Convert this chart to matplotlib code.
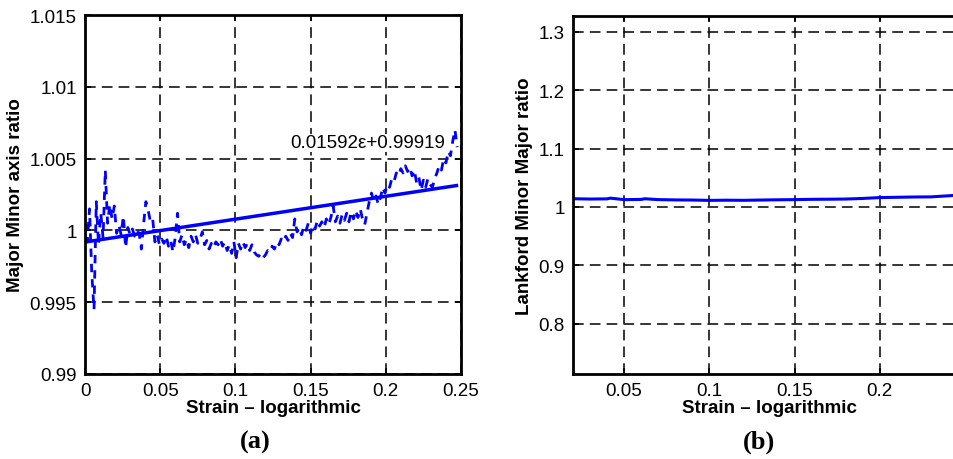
import numpy as np
import matplotlib
matplotlib.use("Agg")
import matplotlib.pyplot as plt

plt.rcParams['font.family'] = ['Liberation Sans', 'DejaVu Sans']

# (a) measured major/minor axis ratio vs strain
strain_a = np.round(np.arange(0, 166) * 0.0015, 4)
ratio_a = [
    1.0005, 0.9992, 1.0015, 0.9970, 0.9945, 1.0020, 0.9990, 1.0012, 0.9995, 1.0042,
    1.0005, 1.0018, 1.0008, 1.0017, 0.9998, 1.0004, 0.9997, 1.0010, 0.9988, 1.0002,
    0.9997, 1.0001, 0.9996, 1.0000, 0.9998, 0.9987, 1.0005, 1.0020, 1.0014, 1.0006,
    1.0008, 0.9992, 0.9997, 0.9990, 0.9994, 0.9991, 0.9996, 0.9989, 0.9993, 0.9985,
    0.9995, 1.0012, 0.9992, 0.9997, 0.9990, 0.9994, 0.9988, 0.9996, 0.9992, 0.9997,
    0.9991, 0.9994, 0.9999, 0.9990, 0.9993, 0.9987, 0.9991, 0.9988, 0.9992, 0.9990,
    0.9994, 0.9989, 0.9992, 0.9986, 0.9990, 0.9984, 0.9992, 0.9981, 0.9991, 0.9987,
    0.9992, 0.9988, 0.9991, 0.9986, 0.9990, 0.9985, 0.9983, 0.9982, 0.9984, 0.9981,
    0.9983, 0.9986, 0.9985, 0.9989, 0.9987, 0.9992, 0.9990, 0.9994, 0.9992, 0.9996,
    0.9993, 0.9998, 0.9995, 1.0008, 0.9999, 1.0002, 0.9997, 1.0003, 1.0000, 1.0005,
    0.9998, 1.0004, 1.0001, 1.0007, 1.0003, 1.0006, 1.0002, 1.0008, 1.0004, 1.0009,
    1.0017, 1.0006, 1.0010, 1.0005, 1.0011, 1.0007, 1.0012, 1.0006, 1.0013, 1.0008,
    1.0014, 1.0009, 1.0015, 1.0008, 1.0004, 1.0012, 1.0020, 1.0026, 1.0020, 1.0024,
    1.0018, 1.0023, 1.0030, 1.0026, 1.0032, 1.0030, 1.0036, 1.0034, 1.0040, 1.0038,
    1.0043, 1.0040, 1.0045, 1.0041, 1.0044, 1.0038, 1.0042, 1.0033, 1.0037, 1.0028,
    1.0035, 1.0030, 1.0036, 1.0032, 1.0030, 1.0036, 1.0040, 1.0045, 1.0042, 1.0050,
    1.0047, 1.0055, 1.0052, 1.0062, 1.0070, 1.0058,
]
fit_slope = 0.01592
fit_icpt = 0.99919
fit_x = [0.0, 0.247]

# (b) Lankford minor/major ratio vs strain
strain_b = [0.020, 0.030, 0.040, 0.042, 0.050, 0.060, 0.062, 0.070, 0.080, 0.090,
            0.100, 0.110, 0.120, 0.130, 0.140, 0.150, 0.160, 0.170, 0.180, 0.190,
            0.200, 0.210, 0.220, 0.230, 0.240, 0.245]
ratio_b = [1.0140, 1.0135, 1.0138, 1.0150, 1.0125, 1.0128, 1.0140, 1.0125, 1.0120, 1.0118,
           1.0112, 1.0115, 1.0113, 1.0118, 1.0122, 1.0125, 1.0130, 1.0132, 1.0135, 1.0145,
           1.0160, 1.0165, 1.0170, 1.0172, 1.0190, 1.0200]

blue = (0, 0, 1)
tick_fs = 13.5
label_fs = 13.5

fig = plt.figure(figsize=(9.54, 4.6), dpi=100)
ax1 = fig.add_axes([0.0891, 0.1848, 0.3941, 0.7804])
ax2 = fig.add_axes([0.6006, 0.1848, 0.4109, 0.7783])

for ax in (ax1, ax2):
    ax.grid(True, color='black', linestyle=(0, (7, 4)), linewidth=1.1)
    ax.tick_params(direction='in', length=4, width=1.2, labelsize=tick_fs,
                   top=True, right=True, pad=6)
    for s in ax.spines.values():
        s.set_linewidth(2.0)
    ax.set_axisbelow(True)

# panel (a)
ax1.plot(strain_a, ratio_a, color=blue, linestyle=(0, (3, 2.5)), linewidth=2.0)
fx = np.array(fit_x)
ax1.plot(fx, fit_slope * fx + fit_icpt, color=blue, linewidth=2.5)
ax1.text(0.1363, 1.0061, '0.01592\u03b5+0.99919', fontsize=tick_fs,
         ha='left', va='center',
         bbox=dict(facecolor='white', edgecolor='none', pad=0.5))
ax1.set_xlim(0, 0.25)
ax1.set_ylim(0.99, 1.015)
ax1.set_xticks([0, 0.05, 0.1, 0.15, 0.2, 0.25])
ax1.set_xticklabels(['0', '0.05', '0.1', '0.15', '0.2', '0.25'])
ax1.set_yticks([0.99, 0.995, 1.0, 1.005, 1.01, 1.015])
ax1.set_yticklabels(['0.99', '0.995', '1', '1.005', '1.01', '1.015'])
ax1.set_xlabel('Strain \u2013 logarithmic', fontsize=label_fs, fontweight='bold', labelpad=0)
ax1.set_ylabel('Major Minor axis ratio', fontsize=label_fs, fontweight='bold', labelpad=4)

# panel (b) -- right edge is cropped in the original figure
ax2.plot(strain_b, ratio_b, color=blue, linewidth=2.2)
ax2.set_xlim(0.02, 0.25)
ax2.set_ylim(0.7136, 1.3273)
ax2.set_xticks([0.05, 0.1, 0.15, 0.2])
ax2.set_xticklabels(['0.05', '0.1', '0.15', '0.2'])
ax2.set_yticks([0.8, 0.9, 1.0, 1.1, 1.2, 1.3])
ax2.set_yticklabels(['0.8', '0.9', '1', '1.1', '1.2', '1.3'])
ax2.set_xlabel('Strain \u2013 logarithmic', fontsize=label_fs, fontweight='bold', labelpad=0)
ax2.set_ylabel('Lankford Minor Major ratio', fontsize=label_fs, fontweight='bold', labelpad=4)

fig.text(255 / 954, 1 - 442 / 460, '(a)', fontsize=19, fontweight='bold',
         family='Liberation Serif', ha='center', va='center')
fig.text(759 / 954, 1 - 442 / 460, '(b)', fontsize=19, fontweight='bold',
         family='Liberation Serif', ha='center', va='center')

fig.savefig('out.png', dpi=100)
